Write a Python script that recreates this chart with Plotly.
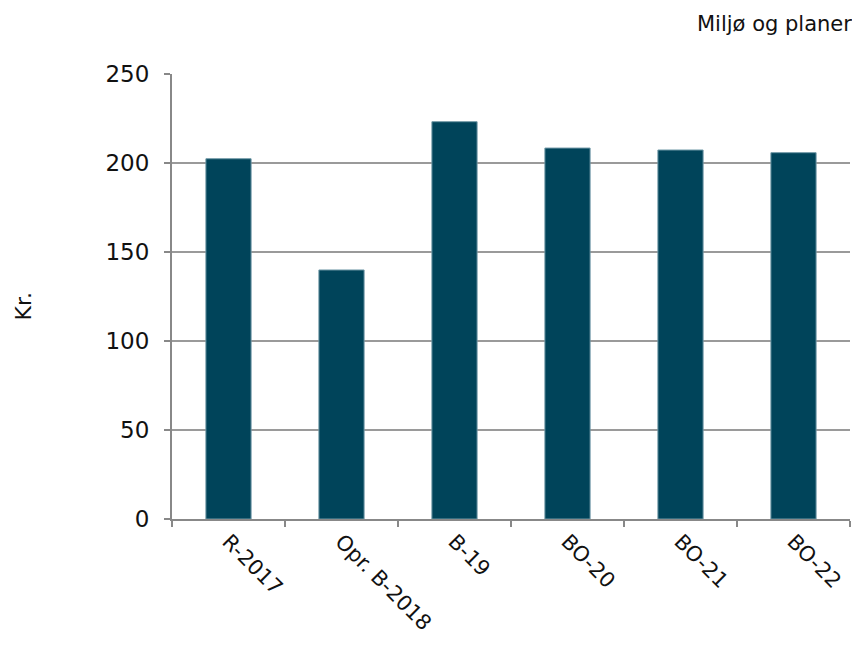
import plotly.graph_objects as go

categories = ["R-2017", "Opr. B-2018", "B-19", "BO-20", "BO-21", "BO-22"]
values = [202.4, 139.9, 223.2, 208.4, 207.3, 205.8]
y_ticks = [0, 50, 100, 150, 200, 250]

BAR_COLOR = "#00445a"
GRID = "#9a9a9a"
FONT = "DejaVu Sans, Verdana, sans-serif"

fig = go.Figure(
    go.Bar(
        x=categories,
        y=values,
        width=0.4,
        marker={"color": BAR_COLOR, "line": {"color": "#6f98a6", "width": 1}},
    )
)

# page body has an 8px margin, so size/margins are shifted to land on the reference
fig.update_layout(
    width=852,
    height=638,
    paper_bgcolor="white",
    plot_bgcolor="white",
    font={"family": FONT, "size": 22, "color": "#111"},
    margin={"l": 164, "r": 10, "t": 66, "b": 127},
    showlegend=False,
    annotations=[
        {
            "text": "Miljø og planer",
            "xref": "paper",
            "yref": "paper",
            "x": 1.0,
            "y": 1.0,
            "xanchor": "right",
            "yanchor": "bottom",
            "yshift": 36,
            "xshift": 4,
            "showarrow": False,
            "font": {"size": 21, "family": FONT, "color": "#111"},
        },
        {
            "text": "Kr.",
            "xref": "paper",
            "yref": "paper",
            "x": 0,
            "y": 0.5,
            "xanchor": "center",
            "yanchor": "middle",
            "xshift": -149,
            "yshift": -10,
            "textangle": -90,
            "showarrow": False,
            "font": {"size": 22, "family": FONT, "color": "#111"},
        },
    ],
)

fig.update_xaxes(
    showline=True,
    linecolor="#888",
    linewidth=2,
    ticks="outside",
    tickson="boundaries",
    ticklen=6,
    tickcolor="#888",
    tickwidth=2,
    tickangle=45,
    tickfont={"size": 21},
    showgrid=False,
)
fig.update_yaxes(
    range=[0, 250],
    tickvals=y_ticks,
    showline=True,
    linecolor="#888",
    linewidth=2,
    ticks="outside",
    ticklen=6,
    tickcolor="#888",
    tickwidth=2,
    ticklabelstandoff=10,
    showgrid=True,
    gridcolor=GRID,
    gridwidth=2,
    zeroline=False,
    tickfont={"size": 23},
)

fig.write_html("out.html")
